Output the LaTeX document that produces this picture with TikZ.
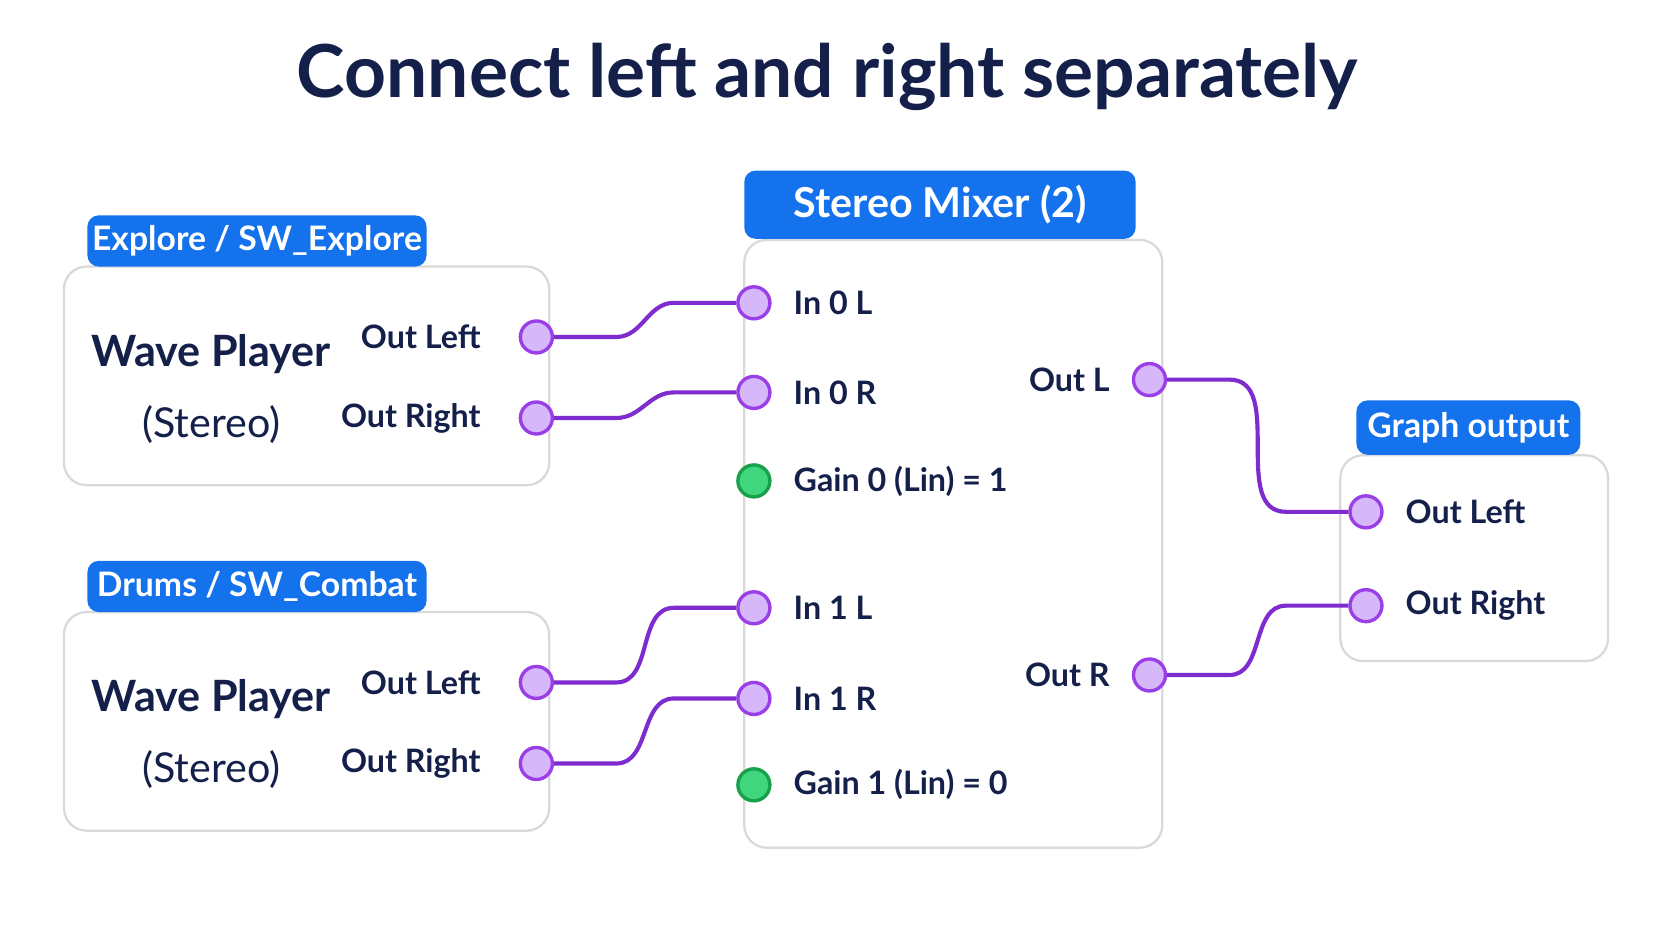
\documentclass[tikz,border=0pt]{standalone}
\usepackage{fontspec}
\setmainfont{Lato}
\usetikzlibrary{positioning,calc}
\definecolor{navy}{HTML}{14204A}
\definecolor{tabblue}{HTML}{1372EC}
\definecolor{portfill}{HTML}{D6B8FA}
\definecolor{portdraw}{HTML}{9A3FE8}
\definecolor{wirecol}{HTML}{7E2BD0}
\definecolor{gainfill}{HTML}{3FD67E}
\definecolor{gaindraw}{HTML}{18A04A}
\tikzset{
    box/.style={
    % The shape:
    rectangle, rounded corners=6,
    % The border:
    draw=black!15, line width=0.6pt,
    fill=white,
    },
    tab/.style={
    rectangle, rounded corners=3,
    fill=tabblue, text=white,
    font=\fontsize{9}{10}\selectfont\bfseries,
    inner sep=0pt,
    },
    port/.style={
    circle, minimum size=7.5mm*0.4, inner sep=0pt,
    fill=portfill, draw=portdraw, line width=0.9pt,
    },
    gain/.style={port, fill=gainfill, draw=gaindraw},
    plabel/.style={font=\fontsize{8.6}{10}\selectfont\bfseries, text=navy, inner sep=0pt},
    wire/.style={draw=wirecol, line width=1.1pt},
}
\begin{document}
\begin{tikzpicture}[x=0.01cm, y=-0.01cm]
    \useasboundingbox[fill=white] (0,0) rectangle (1568,882);
    \node (title) [text=navy, font=\fontsize{19.5}{22}\selectfont\bfseries] at (776,72) {Connect left and right separately};

    % players
    \foreach \n/\dy/\name in {a/0/{Explore / SW\_Explore}, b/324/{Drums / SW\_Combat}} {
        \draw[box] (60,250+\dy) rectangle (515,455+\dy);
        \node (tab\n) [tab, minimum width=318*0.01cm, minimum height=48*0.01cm] at (241,226+\dy) {\name};
        \node (wp\n) [text=navy, font=\fontsize{11.5}{13}\selectfont\bfseries] at (198,332+\dy) {Wave Player};
        \node (st\n) [text=navy, font=\fontsize{11}{13}\selectfont, below=0.05cm of wp\n] {(Stereo)};
        \node (ol\n) [port] at (503,316+\dy) {};
        \node (or\n) [port] at (503,392+\dy) {};
        \node [plabel, left=0.35cm of ol\n] {Out Left};
        \node [plabel, left=0.35cm of or\n] {Out Right};
    }

    % mixer
    \draw[box] (698,225) rectangle (1090,795);
    \node (tabm) [tab, minimum width=367*0.01cm, minimum height=64*0.01cm, font=\fontsize{11}{13}\selectfont\bfseries] at (881.5,192) {Stereo Mixer (2)};
    \foreach \n/\y/\txt/\st in {i0l/284/In 0 L/port, i0r/368/In 0 R/port, g0/451/Gain 0 (Lin) = 1/gain,
                                i1l/570/In 1 L/port, i1r/655/In 1 R/port, g1/736/Gain 1 (Lin) = 0/gain} {
        \node (\n) [\st] at (707,\y) {};
        \node [plabel, right=0.2cm of \n] {\txt};
    }
    \node (mol) [port] at (1078,356) {};
    \node (mor) [port] at (1078,633) {};
    \node [plabel, left=0.2cm of mol] {Out L};
    \node [plabel, left=0.2cm of mor] {Out R};

    % graph output
    \draw[box] (1257,427) rectangle (1508,620);
    \node (tabg) [tab, minimum width=210*0.01cm, minimum height=51*0.01cm] at (1377,401) {Graph output};
    \node (gol) [port] at (1281,480) {};
    \node (gor) [port] at (1281,568) {};
    \node [plabel, right=0.2cm of gol] {Out Left};
    \node [plabel, right=0.2cm of gor] {Out Right};

    % wires
    \foreach \s/\t in {ola/i0l, ora/i0r, olb/i1l, orb/i1r, mol/gol, mor/gor}
        \draw[wire] (\s) -- ($(\s)+(75,0)$) to[out=0,in=180] ($(\t)+(-75,0)$) -- (\t);
\end{tikzpicture}
\end{document}
